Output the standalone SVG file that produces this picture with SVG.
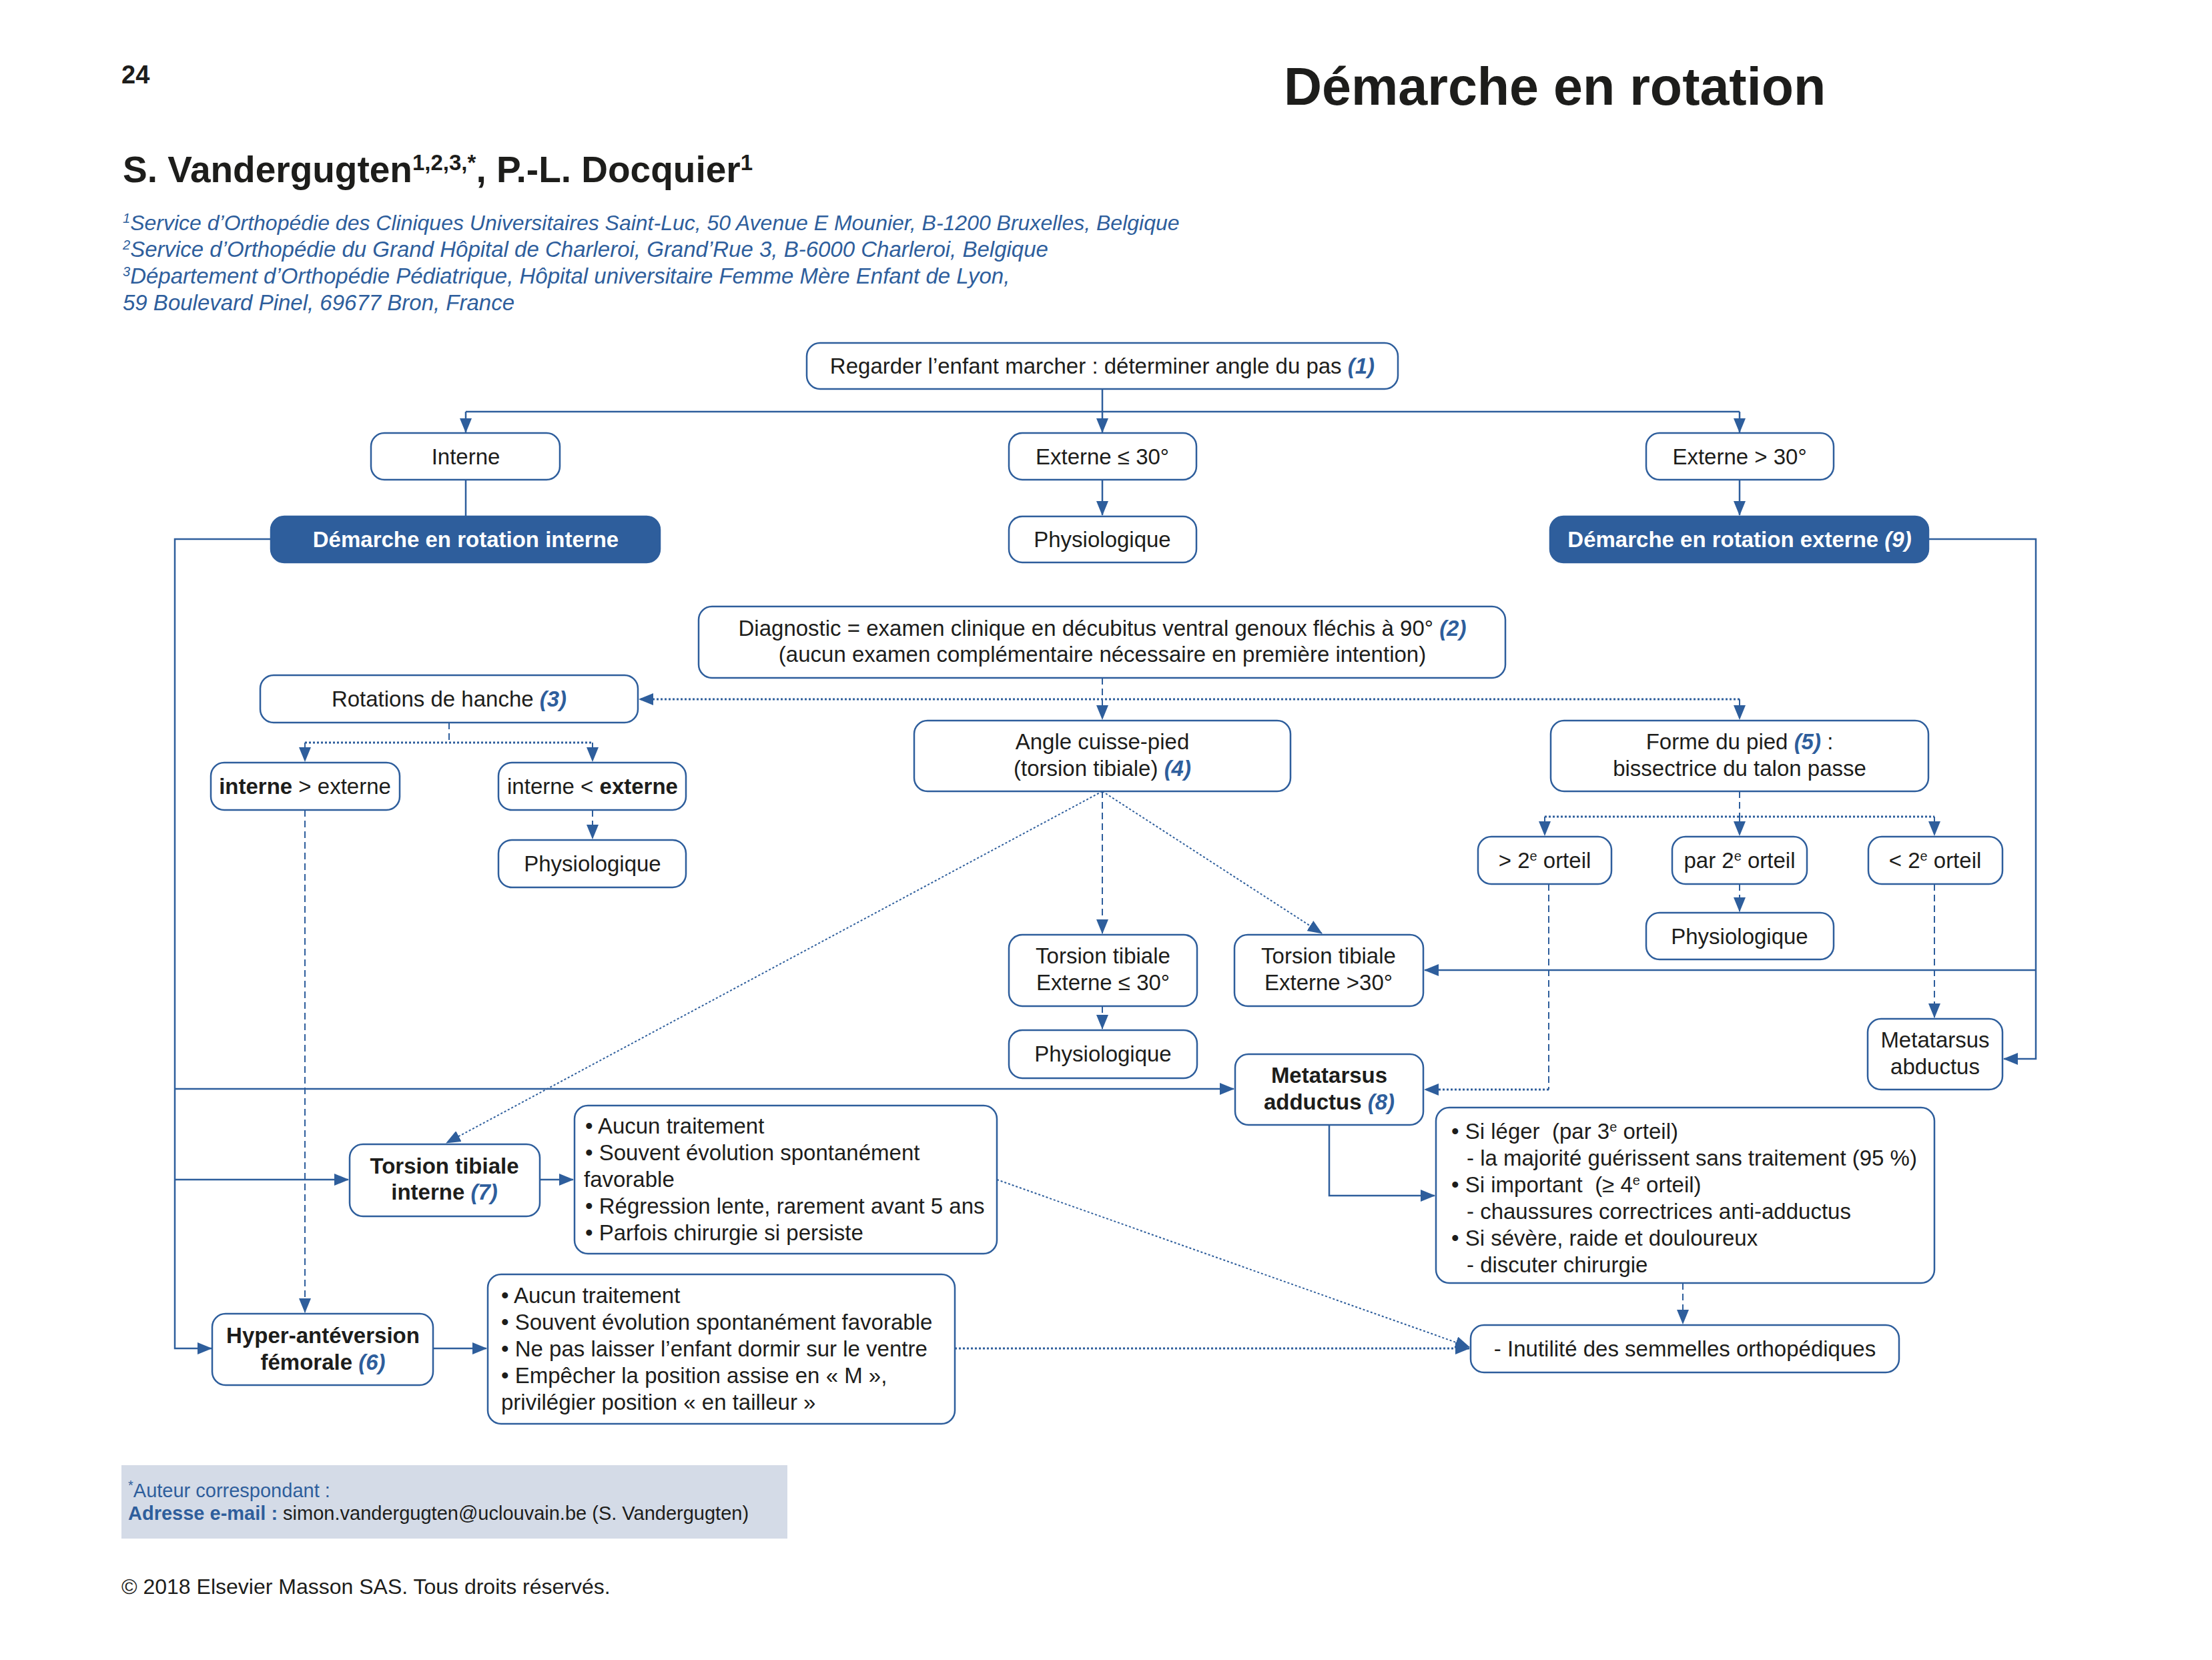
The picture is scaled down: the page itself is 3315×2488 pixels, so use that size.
<svg xmlns="http://www.w3.org/2000/svg" width="3315" height="2488" viewBox="0 0 3315 2488">
<style>
text{font-family:"Liberation Sans",Arial,Helvetica,sans-serif;fill:#1d1d1b}
.t{font-size:33px;text-anchor:middle}
.l{font-size:33px}
.b{font-weight:bold}
.w{fill:#ffffff;font-weight:bold}
.n{fill:#2e5e9c;font-style:italic;font-weight:bold}
.ni{fill:#2e5e9c;font-style:italic}
.wn{fill:#ffffff;font-style:italic;font-weight:bold}
.box{fill:#ffffff;stroke:#2e5e9c;stroke-width:2.5}
.dark{fill:#2e5e9c;stroke:#2e5e9c;stroke-width:2.5}
.sol{fill:none;stroke:#2e5e9c;stroke-width:2.5}
.dsh{fill:none;stroke:#2e5e9c;stroke-width:2;stroke-dasharray:10 6}
.dot{fill:none;stroke:#2e5e9c;stroke-width:3;stroke-dasharray:3 3}
.aff{font-size:33px;fill:#2e5e9c;font-style:italic}
.sup{font-size:20px}
</style>
<defs>
<marker id="ar" markerUnits="userSpaceOnUse" markerWidth="22" markerHeight="18" viewBox="0 0 22 18" refX="21" refY="9" orient="auto">
<path d="M0,0 L22,9 L0,18 Z" fill="#2e5e9c"/>
</marker>
</defs>
<rect width="3315" height="2488" fill="#ffffff"/>

<g id="header">
<text x="182" y="125" class="b" style="font-size:38px">24</text>
<text x="1924" y="157" class="b" style="font-size:79px">Démarche en rotation</text>
<text x="184" y="273" class="b" style="font-size:55px">S. Vandergugten<tspan baseline-shift="super" style="font-size:33px">1,2,3,*</tspan>, P.-L. Docquier<tspan baseline-shift="super" style="font-size:33px">1</tspan></text>
<text x="184" y="345" class="aff" style="font-size:32px"><tspan baseline-shift="super" class="sup">1</tspan>Service d’Orthopédie des Cliniques Universitaires Saint-Luc, 50 Avenue E Mounier, B-1200 Bruxelles, Belgique</text>
<text x="184" y="385" class="aff"><tspan baseline-shift="super" class="sup">2</tspan>Service d’Orthopédie du Grand Hôpital de Charleroi, Grand’Rue 3, B-6000 Charleroi, Belgique</text>
<text x="184" y="425" class="aff"><tspan baseline-shift="super" class="sup">3</tspan>Département d’Orthopédie Pédiatrique, Hôpital universitaire Femme Mère Enfant de Lyon,</text>
<text x="184" y="465" class="aff">59 Boulevard Pinel, 69677 Bron, France</text>
</g>

<g id="connectors">
<path class="sol" d="M698,617 H2607"/>
<path class="sol" d="M698,719 V774"/>
<path class="sol" d="M1652,719 V772" marker-end="url(#ar)"/>
<path class="sol" d="M2607,719 V772" marker-end="url(#ar)"/>
<path class="sol" d="M1652,583 V648" marker-end="url(#ar)"/>
<path class="sol" d="M698,617 V648" marker-end="url(#ar)"/>
<path class="sol" d="M2607,617 V648" marker-end="url(#ar)"/>
<path class="sol" d="M406,808 H262 V2021 H317" marker-end="url(#ar)"/>
<path class="sol" d="M262,1632 H1849" marker-end="url(#ar)"/>
<path class="sol" d="M262,1768 H522" marker-end="url(#ar)"/>
<path class="sol" d="M2890,808 H3051 V1587 H3003" marker-end="url(#ar)"/>
<path class="sol" d="M3051,1454 H2135" marker-end="url(#ar)"/>
<path class="sol" d="M809,1768 H859" marker-end="url(#ar)"/>
<path class="sol" d="M649,2021 H729" marker-end="url(#ar)"/>
<path class="sol" d="M1992,1686 V1792 H2150" marker-end="url(#ar)"/>
<path class="dsh" d="M1652,1016 V1078" marker-end="url(#ar)"/>
<path class="dot" d="M2607,1048 H958" marker-end="url(#ar)"/>
<path class="dsh" d="M2607,1048 V1078" marker-end="url(#ar)"/>
<path class="dsh" d="M673,1083 V1113"/>
<path class="dot" d="M457,1113 H888"/>
<path class="dsh" d="M457,1113 V1141" marker-end="url(#ar)"/>
<path class="dsh" d="M888,1113 V1141" marker-end="url(#ar)"/>
<path class="dsh" d="M888,1214 V1257" marker-end="url(#ar)"/>
<path class="dsh" d="M457,1214 V1967" marker-end="url(#ar)"/>
<path class="dsh" d="M1652,1186 V1399" marker-end="url(#ar)"/>
<path class="dot" style="stroke-width:2" d="M1652,1186 L1981,1399" marker-end="url(#ar)"/>
<path class="dot" style="stroke-width:2" d="M1652,1186 L669,1713" marker-end="url(#ar)"/>
<path class="dsh" d="M1652,1508 V1542" marker-end="url(#ar)"/>
<path class="dsh" d="M2607,1186 V1224"/>
<path class="dot" d="M2315,1224 H2899"/>
<path class="dsh" d="M2315,1224 V1252" marker-end="url(#ar)"/>
<path class="dsh" d="M2607,1224 V1252" marker-end="url(#ar)"/>
<path class="dsh" d="M2899,1224 V1252" marker-end="url(#ar)"/>
<path class="dsh" d="M2607,1325 V1366" marker-end="url(#ar)"/>
<path class="dsh" d="M2321,1325 V1633"/>
<path class="dot" d="M2321,1633 H2135" marker-end="url(#ar)"/>
<path class="dsh" d="M2899,1325 V1525" marker-end="url(#ar)"/>
<path class="dsh" d="M2522,1923 V1984" marker-end="url(#ar)"/>
<path class="dot" style="stroke-width:2" d="M1494,1768 L2202,2019" marker-end="url(#ar)"/>
<path class="dot" d="M1431,2021 H2202" marker-end="url(#ar)"/>
</g>

<g id="n-regarder"><rect class="box" x="1209" y="514" width="886" height="69" rx="20"/><text class="t" x="1652" y="560">Regarder l’enfant marcher : déterminer angle du pas <tspan class="n">(1)</tspan></text></g>
<g id="n-interne"><rect class="box" x="556" y="649" width="283" height="70" rx="20"/><text class="t" x="698" y="696">Interne</text></g>
<g id="n-ext-le30"><rect class="box" x="1512" y="649" width="281" height="70" rx="20"/><text class="t" x="1652" y="696">Externe ≤ 30°</text></g>
<g id="n-ext-gt30"><rect class="box" x="2467" y="649" width="281" height="70" rx="20"/><text class="t" x="2607" y="696">Externe &gt; 30°</text></g>
<g id="n-dem-int"><rect class="dark" x="406" y="774" width="583" height="69" rx="20"/><text class="t w" x="698" y="820">Démarche en rotation interne</text></g>
<g id="n-physio1"><rect class="box" x="1512" y="774" width="281" height="69" rx="20"/><text class="t" x="1652" y="820">Physiologique</text></g>
<g id="n-dem-ext"><rect class="dark" x="2323" y="774" width="567" height="69" rx="20"/><text class="t w" x="2607" y="820">Démarche en rotation externe <tspan class="wn">(9)</tspan></text></g>
<g id="n-diag"><rect class="box" x="1047" y="909" width="1209" height="107" rx="20"/><text class="t" x="1652" y="953">Diagnostic = examen clinique en décubitus ventral genoux fléchis à 90° <tspan class="n">(2)</tspan></text><text class="t" x="1652" y="992">(aucun examen complémentaire nécessaire en première intention)</text></g>
<g id="n-rotations"><rect class="box" x="390" y="1012" width="566" height="71" rx="20"/><text class="t" x="673" y="1059">Rotations de hanche <tspan class="n">(3)</tspan></text></g>
<g id="n-angle"><rect class="box" x="1370" y="1080" width="564" height="106" rx="20"/><text class="t" x="1652" y="1123">Angle cuisse-pied</text><text class="t" x="1652" y="1163">(torsion tibiale) <tspan class="n">(4)</tspan></text></g>
<g id="n-forme"><rect class="box" x="2324" y="1080" width="566" height="106" rx="20"/><text class="t" x="2607" y="1123">Forme du pied <tspan class="n">(5)</tspan> :</text><text class="t" x="2607" y="1163">bissectrice du talon passe</text></g>
<g id="n-int-gt-ext"><rect class="box" x="316" y="1143" width="283" height="71" rx="20"/><text class="t" x="457" y="1190"><tspan class="b">interne</tspan> &gt; externe</text></g>
<g id="n-int-lt-ext"><rect class="box" x="747" y="1143" width="281" height="71" rx="20"/><text class="t" x="888" y="1190">interne &lt; <tspan class="b">externe</tspan></text></g>
<g id="n-physio2"><rect class="box" x="747" y="1259" width="281" height="71" rx="20"/><text class="t" x="888" y="1306">Physiologique</text></g>
<g id="n-gt2"><rect class="box" x="2215" y="1254" width="200" height="71" rx="20"/><text class="t" x="2315" y="1301">&gt; 2<tspan baseline-shift="super" class="sup">e</tspan> orteil</text></g>
<g id="n-par2"><rect class="box" x="2506" y="1254" width="202" height="71" rx="20"/><text class="t" x="2607" y="1301">par 2<tspan baseline-shift="super" class="sup">e</tspan> orteil</text></g>
<g id="n-lt2"><rect class="box" x="2800" y="1254" width="201" height="71" rx="20"/><text class="t" x="2900" y="1301">&lt; 2<tspan baseline-shift="super" class="sup">e</tspan> orteil</text></g>
<g id="n-physio3"><rect class="box" x="2467" y="1368" width="281" height="70" rx="20"/><text class="t" x="2607" y="1415">Physiologique</text></g>
<g id="n-tt-le30"><rect class="box" x="1512" y="1401" width="282" height="107" rx="20"/><text class="t" x="1653" y="1444">Torsion tibiale</text><text class="t" x="1653" y="1484">Externe ≤ 30°</text></g>
<g id="n-tt-gt30"><rect class="box" x="1850" y="1401" width="283" height="107" rx="20"/><text class="t" x="1991" y="1444">Torsion tibiale</text><text class="t" x="1991" y="1484">Externe &gt;30°</text></g>
<g id="n-physio4"><rect class="box" x="1512" y="1544" width="282" height="72" rx="20"/><text class="t" x="1653" y="1591">Physiologique</text></g>
<g id="n-mt-abd"><rect class="box" x="2799" y="1527" width="202" height="106" rx="20"/><text class="t" x="2900" y="1570">Metatarsus</text><text class="t" x="2900" y="1610">abductus</text></g>
<g id="n-mt-add"><rect class="box" x="1851" y="1580" width="282" height="106" rx="20"/><text class="t b" x="1992" y="1623">Metatarsus</text><text class="t b" x="1992" y="1663">adductus <tspan class="ni">(8)</tspan></text></g>
<g id="n-tt-int"><rect class="box" x="524" y="1715" width="285" height="108" rx="20"/><text class="t b" x="666" y="1759">Torsion tibiale</text><text class="t b" x="666" y="1798">interne <tspan class="ni">(7)</tspan></text></g>
<g id="n-tt-int-list"><rect class="box" x="861" y="1657" width="633" height="222" rx="20"/>
<text class="l" x="877" y="1699">• Aucun traitement</text>
<text class="l" x="877" y="1739">• Souvent évolution spontanément</text>
<text class="l" x="875" y="1779">favorable</text>
<text class="l" x="877" y="1819">• Régression lente, rarement avant 5 ans</text>
<text class="l" x="877" y="1859">• Parfois chirurgie si persiste</text></g>
<g id="n-mt-add-list"><rect class="box" x="2152" y="1660" width="747" height="263" rx="20"/>
<text class="l" x="2175" y="1707" xml:space="preserve">• Si léger  (par 3<tspan baseline-shift="super" class="sup">e</tspan> orteil)</text>
<text class="l" x="2198" y="1747">- la majorité guérissent sans traitement (95 %)</text>
<text class="l" x="2175" y="1787" xml:space="preserve">• Si important  (≥ 4<tspan baseline-shift="super" class="sup">e</tspan> orteil)</text>
<text class="l" x="2198" y="1827">- chaussures correctrices anti-adductus</text>
<text class="l" x="2175" y="1867">• Si sévère, raide et douloureux</text>
<text class="l" x="2198" y="1907">- discuter chirurgie</text></g>
<g id="n-hyper"><rect class="box" x="318" y="1969" width="331" height="107" rx="20"/><text class="t b" x="484" y="2013">Hyper-antéversion</text><text class="t b" x="484" y="2053">fémorale <tspan class="n">(6)</tspan></text></g>
<g id="n-hyper-list"><rect class="box" x="731" y="1910" width="700" height="224" rx="20"/>
<text class="l" x="751" y="1953">• Aucun traitement</text>
<text class="l" x="751" y="1993">• Souvent évolution spontanément favorable</text>
<text class="l" x="751" y="2033">• Ne pas laisser l’enfant dormir sur le ventre</text>
<text class="l" x="751" y="2073">• Empêcher la position assise en « M »,</text>
<text class="l" x="751" y="2113">privilégier position « en tailleur »</text></g>
<g id="n-inutilite"><rect class="box" x="2204" y="1986" width="642" height="71" rx="20"/><text class="t" x="2525" y="2033">- Inutilité des semmelles orthopédiques</text></g>

<g id="footer">
<rect x="182" y="2196" width="998" height="110" fill="#d4dbe7"/>
<text x="192" y="2244" style="font-size:29px;fill:#2e5e9c"><tspan baseline-shift="super" style="font-size:20px">*</tspan>Auteur correspondant :</text>
<text x="192" y="2278" style="font-size:29px"><tspan style="fill:#2e5e9c;font-weight:bold">Adresse e-mail :</tspan> simon.vandergugten@uclouvain.be (S. Vandergugten)</text>
<text x="182" y="2389" style="font-size:32px">© 2018 Elsevier Masson SAS. Tous droits réservés.</text>
</g>
</svg>
